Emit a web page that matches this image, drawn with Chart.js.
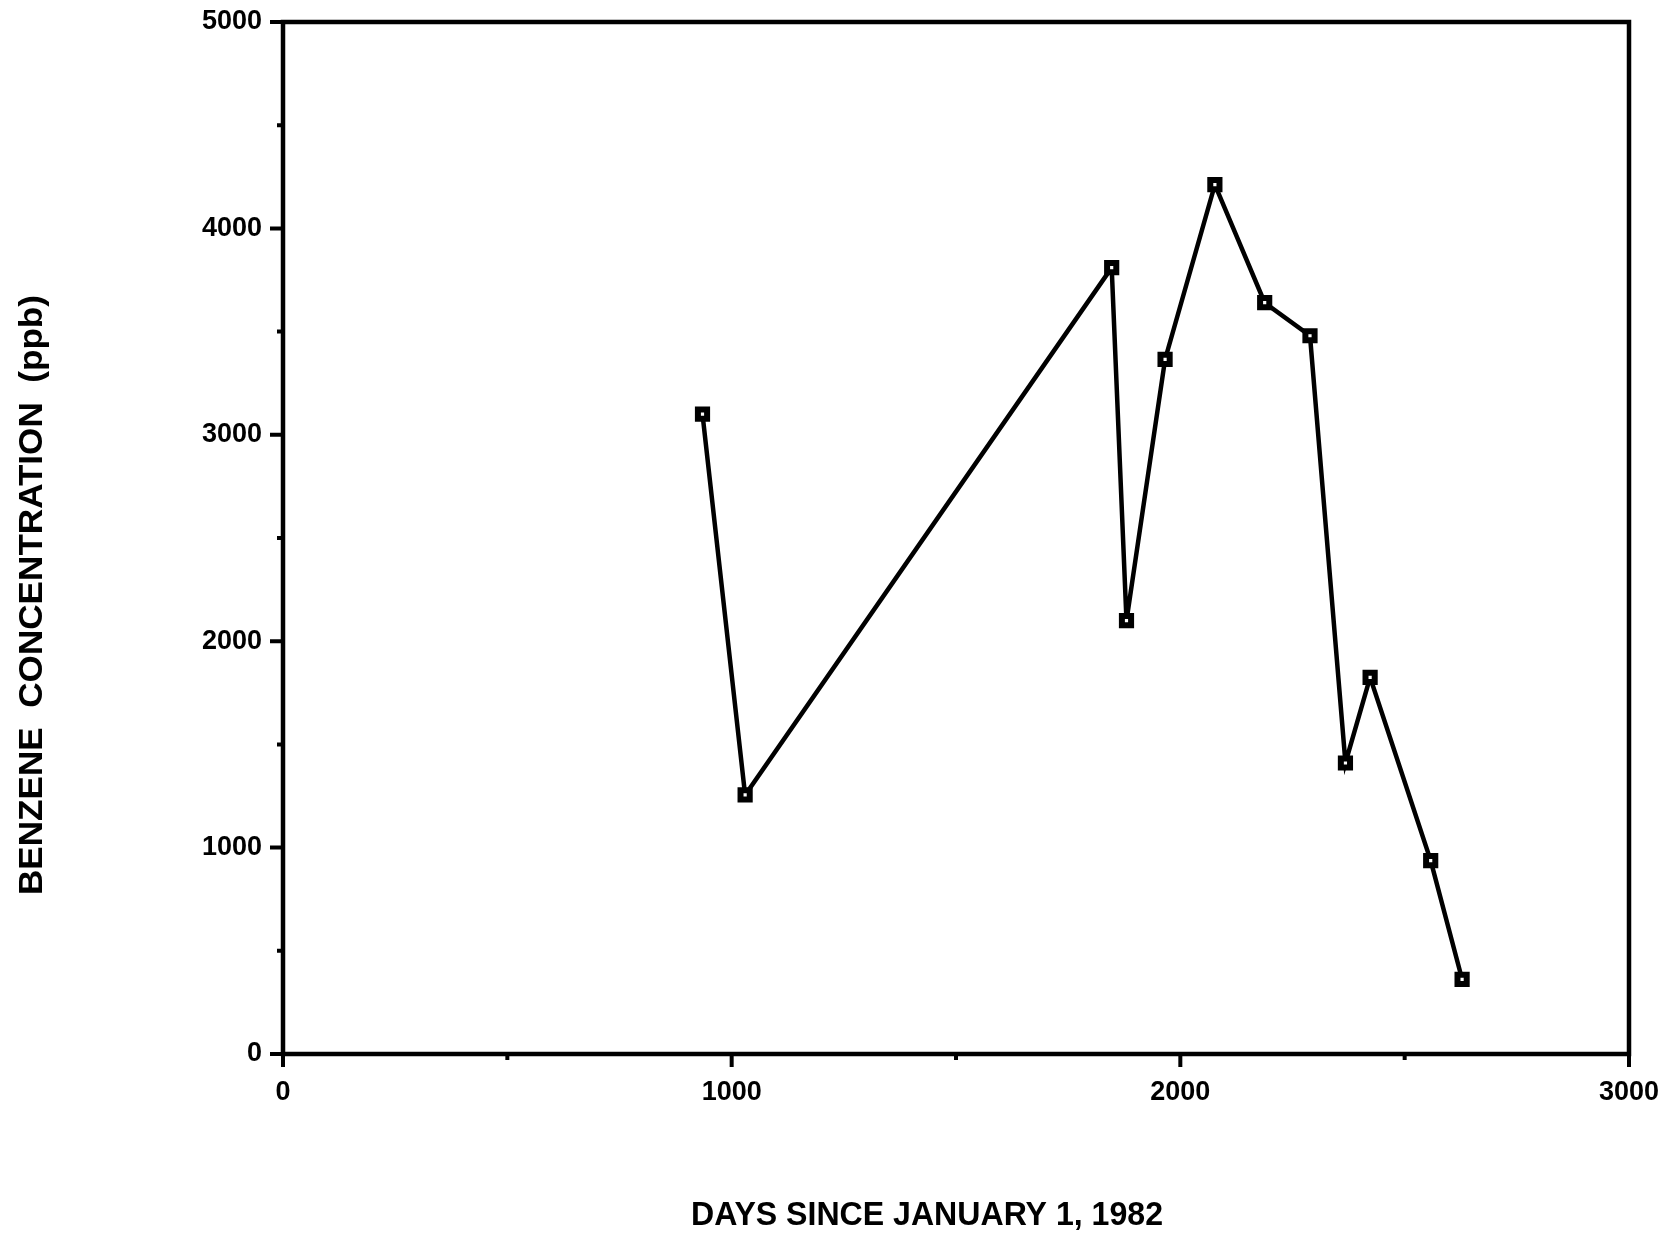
<!DOCTYPE html>
<html>
<head>
<meta charset="utf-8">
<title>Benzene concentration</title>
<script src="https://cdn.jsdelivr.net/npm/chart.js@4/dist/chart.umd.min.js"></script>
<style>
  html, body { margin: 0; padding: 0; background: #ffffff; }
  #wrap { width: 1665px; height: 1237px; }
</style>
</head>
<body>
<div id="wrap"><canvas id="c" width="1665" height="1237"></canvas></div>
<script>
// Sampling days (since Jan 1, 1982) and measured benzene concentration (ppb)
const days    = [935, 1030, 1847, 1880, 1966, 2077, 2188, 2289, 2368, 2423, 2558, 2628];
const benzene = [3100, 1255, 3810, 2100, 3365, 4212, 3640, 3480, 1410, 1825, 937, 362];

// Tick values
const xTicksMajor = [0, 1000, 2000, 3000];
const xTicksMinor = [500, 1500, 2500];
const yTicksMajor = [0, 1000, 2000, 3000, 4000, 5000];
const yTicksMinor = [500, 1500, 2500, 3500, 4500];

const xTitle = 'DAYS SINCE JANUARY 1, 1982';
const yTitle = 'BENZENE  CONCENTRATION  (ppb)';

const points = days.map((d, i) => ({ x: d, y: benzene[i] }));

const INK = '#000000';
const FONT = '"Liberation Sans", Arial, Helvetica, sans-serif';

// Draw text centred at (cx, cy), squeezed or stretched to a given width
function fitText(ctx, text, cx, cy, width, angle) {
  ctx.save();
  ctx.translate(cx, cy);
  if (angle) ctx.rotate(angle);
  const w = ctx.measureText(text).width;
  ctx.scale(width / w, 1);
  ctx.fillText(text, 0, 0);
  ctx.restore();
}

// Boxed frame, outward tick marks and the axis titles
const framePlugin = {
  id: 'frame',
  beforeDatasetsDraw(chart) {
    const { ctx, chartArea: a, scales } = chart;
    const xs = scales.x, ys = scales.y;
    ctx.save();
    ctx.strokeStyle = INK;
    ctx.lineWidth = 4.5;
    ctx.lineCap = 'butt';
    ctx.strokeRect(a.left, a.top, a.right - a.left, a.bottom - a.top);

    ctx.lineWidth = 4;
    ctx.beginPath();
    xTicksMajor.forEach(v => {
      const px = xs.getPixelForValue(v);
      ctx.moveTo(px, a.bottom); ctx.lineTo(px, a.bottom + 13);
    });
    xTicksMinor.forEach(v => {
      const px = xs.getPixelForValue(v);
      ctx.moveTo(px, a.bottom); ctx.lineTo(px, a.bottom + 6);
    });
    yTicksMajor.forEach(v => {
      const py = ys.getPixelForValue(v);
      ctx.moveTo(a.left, py); ctx.lineTo(a.left - 13, py);
    });
    yTicksMinor.forEach(v => {
      const py = ys.getPixelForValue(v);
      ctx.moveTo(a.left, py); ctx.lineTo(a.left - 6, py);
    });
    ctx.stroke();
    ctx.restore();
  },
  afterDraw(chart) {
    const { ctx } = chart;
    ctx.save();
    ctx.fillStyle = INK;
    ctx.textAlign = 'center';
    ctx.textBaseline = 'middle';
    ctx.font = 'bold 33px ' + FONT;
    fitText(ctx, xTitle, 927, 1216, 472, 0);
    ctx.font = 'bold 34px ' + FONT;
    fitText(ctx, yTitle, 33, 595, 600, -Math.PI / 2);
    ctx.restore();
  }
};

function noOverhang(scale) {
  scale.paddingTop = 0;
  scale.paddingBottom = 0;
  scale.paddingLeft = 0;
  scale.paddingRight = 0;
}

new Chart(document.getElementById('c'), {
  type: 'scatter',
  data: {
    datasets: [
      {
        data: points,
        showLine: true,
        borderColor: INK,
        borderWidth: 4.5,
        tension: 0,
        pointStyle: 'rect',
        pointRadius: 6.5,
        pointBorderWidth: 6,
        pointBorderColor: INK,
        pointBackgroundColor: '#ffffff',
        pointHoverRadius: 6.5
      },
      {
        // small centre dot inside each square marker
        data: points,
        showLine: false,
        pointStyle: 'circle',
        pointRadius: 0.8,
        pointBorderWidth: 0,
        pointBackgroundColor: INK,
        pointHoverRadius: 0.8
      }
    ]
  },
  options: {
    responsive: false,
    devicePixelRatio: 1,
    animation: false,
    events: [],
    layout: { padding: { left: 0, top: 22, right: 36, bottom: 0 } },
    plugins: {
      legend: { display: false },
      tooltip: { enabled: false },
      title: { display: false }
    },
    scales: {
      x: {
        type: 'linear',
        min: 0,
        max: 3000,
        grid: { display: false, drawTicks: false },
        border: { display: false },
        afterFit(scale) { scale.height = 183; noOverhang(scale); },
        ticks: {
          stepSize: 1000,
          padding: 22,
          color: INK,
          maxRotation: 0,
          autoSkip: false,
          font: { family: FONT, size: 27, weight: 'bold' },
          callback: v => String(v)
        }
      },
      y: {
        type: 'linear',
        min: 0,
        max: 5000,
        grid: { display: false, drawTicks: false },
        border: { display: false },
        afterFit(scale) { scale.width = 283; noOverhang(scale); },
        ticks: {
          stepSize: 1000,
          padding: 21,
          color: INK,
          autoSkip: false,
          font: { family: FONT, size: 27, weight: 'bold' },
          callback: v => String(v)
        }
      }
    }
  },
  plugins: [framePlugin]
});
</script>
</body>
</html>
